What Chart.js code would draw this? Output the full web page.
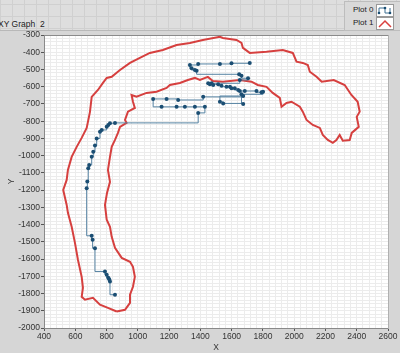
<!DOCTYPE html>
<html>
<head>
<meta charset="utf-8">
<script src="https://cdn.jsdelivr.net/npm/chart.js@4.4.1/dist/chart.umd.min.js"></script>
<style>
    body { margin: 0; width: 400px; height: 353px; overflow: hidden; position: relative;
        font-family: 'Liberation Sans', Arial, sans-serif;
        background-color: #dedede;
        background-image:
            repeating-linear-gradient(0deg, #d0d0d0 0 1px, transparent 1px 12px),
            repeating-linear-gradient(90deg, #d0d0d0 0 1px, transparent 1px 12px); }
    #frame { position: absolute; left: 0; top: 30px; width: 400px; height: 323px; background: #d6d6d6;
        border-top: 1px solid #b8b8b8; }
    #chart { position: absolute; left: 0; top: 0; }
    #title { position: absolute; left: -2px; top: 19px; font-size: 8.5px; color: #222; }
    #legend { position: absolute; left: 344px; top: 1px; width: 56px; height: 28px; background: #d9d9d9;
        border: 1px solid #bdbdbd; border-right: none; font-size: 8px; color: #222; }
    .row { position: absolute; left: 8px; }
    .icon { position: absolute; left: 31px; width: 16px; height: 11px; background: #fff; border: 1px solid #999; }
</style>
</head>
<body>
<div id="frame"></div>
<div id="title">XY Graph&nbsp; 2</div>
<div id="legend">
    <div class="row" style="top:3px">Plot 0</div>
    <div class="icon" style="top:2px">
        <svg width="16" height="11"><polyline points="2,8 2,3 8,3 8,8 13,8 13,3" fill="none" stroke="#3f7093" stroke-width="1"/>
        <circle cx="2" cy="8" r="1.3" fill="#1b4e73"/><circle cx="8" cy="3" r="1.3" fill="#1b4e73"/><circle cx="13" cy="8" r="1.3" fill="#1b4e73"/></svg>
    </div>
    <div class="row" style="top:16px">Plot 1</div>
    <div class="icon" style="top:15px">
        <svg width="16" height="11"><polyline points="2,9 8,3 14,9" fill="none" stroke="#d9403f" stroke-width="1.5"/></svg>
    </div>
</div>
<canvas id="chart" width="400" height="353"></canvas>
<script>
// axis settings
const xMin = 400, xMax = 2600, xStep = 200;
const yMin = -2000, yMax = -300, yStep = 100;

// Plot 0: tracked points (stepped line with markers)
const plot0X = [854, 822, 817, 811, 801, 790, 726, 711, 705,
    673, 677, 683, 689, 705, 715, 726, 737, 758, 769, 801, 811, 822, 854,
    1386, 1429, 1365, 1301, 1248, 1152, 1098, 1184, 1258, 1418, 1674,
    1525, 1546, 1674, 1663, 1801, 1791, 1759, 1684, 1652, 1642, 1620, 1599, 1589, 1567,
    1535, 1514, 1482, 1472, 1461, 1450, 1652, 1705, 1663, 1648,
    1376, 1365, 1344, 1333, 1386, 1525, 1599, 1716];
const plot0Y = [-1807, -1730, -1717, -1709, -1691, -1672, -1537, -1488, -1465,
    -1189, -1150, -1073, -1054, -1007, -978, -941, -900, -861, -851, -832, -822, -812, -810,
    -752, -717, -717, -717, -717, -717, -671, -671, -677, -659, -654,
    -688, -697, -700, -644, -629, -632, -625, -625, -625, -619, -609, -609, -600, -600,
    -594, -586, -590, -580, -586, -580, -561, -551, -536, -528,
    -507, -503, -493, -474, -468, -468, -464, -462];

// Plot 1: outline of the region (closed)
const plot1X = [865, 809, 758, 713, 662, 641, 649, 641, 617, 598, 577, 553, 545, 523, 545, 553,
    577, 609, 641, 673, 694, 705, 745, 777, 801, 833, 886, 950, 1013, 1077, 1160, 1248,
    1333, 1416, 1525, 1544, 1631, 1663, 1672, 1716, 1823, 1927, 1991, 2015, 2055, 2087,
    2100, 2143, 2176, 2253, 2323, 2366, 2406, 2419, 2400, 2413, 2368, 2355, 2311, 2291,
    2270, 2247, 2215, 2183, 2164, 2119, 2079, 2055, 2036, 1983, 1951, 1919, 1908, 1863,
    1823, 1767, 1727, 1652, 1544, 1480, 1448, 1397, 1365, 1320, 1269, 1205, 1184, 1120,
    1056, 992, 960, 969, 981, 937, 918, 928, 886, 873, 854, 833, 822, 809, 822, 803, 790,
    801, 822, 833, 854, 897, 950, 969, 981, 969, 950, 950, 918, 865];
const plot1Y = [-1904, -1883, -1865, -1825, -1836, -1819, -1767, -1703, -1604, -1506, -1413,
    -1332, -1286, -1199, -1141, -1083, -1007, -949, -897, -839, -746, -659, -619, -578, -549,
    -542, -503, -462, -433, -404, -387, -358, -346, -329, -310, -317, -329, -346, -375, -404,
    -397, -387, -404, -455, -462, -474, -513, -542, -571, -561, -590, -648, -687, -745, -775,
    -833, -868, -909, -913, -880, -909, -926, -909, -880, -839, -822, -793, -745, -716, -687,
    -694, -716, -665, -636, -601, -590, -571, -561, -571, -567, -543, -561, -549, -561, -578,
    -590, -607, -629, -636, -658, -648, -687, -723, -745, -793, -810, -833, -868, -909, -949,
    -1007, -1083, -1152, -1216, -1286, -1372, -1413, -1471, -1535, -1593, -1616, -1645, -1703,
    -1761, -1807, -1854, -1894, -1904];

const toPoints = (xs, ys) => xs.map((x, i) => ({ x: x, y: ys[i] }));

const plotBackground = {
    id: 'plotBackground',
    beforeDraw(chart) {
        const { ctx, chartArea } = chart;
        ctx.save();
        ctx.fillStyle = '#ffffff';
        ctx.fillRect(chartArea.left, chartArea.top, chartArea.right - chartArea.left, chartArea.bottom - chartArea.top);
        ctx.restore();
    }
};

const tickFont = { family: "'Liberation Sans', Arial, sans-serif", size: 8.5 };

new Chart(document.getElementById('chart'), {
    type: 'scatter',
    data: {
        datasets: [
            {
                label: 'Plot 0',
                data: toPoints(plot0X, plot0Y),
                showLine: true,
                stepped: true,
                borderColor: '#5582a2',
                borderWidth: 1,
                pointRadius: 2,
                pointBackgroundColor: '#1b4e73',
                pointBorderWidth: 0
            },
            {
                label: 'Plot 1',
                data: toPoints(plot1X, plot1Y),
                showLine: true,
                borderColor: '#d6403f',
                borderWidth: 2,
                pointRadius: 0
            }
        ]
    },
    options: {
        responsive: false,
        animation: false,
        layout: { padding: { top: 35, right: 12, left: 0, bottom: 0 } },
        plugins: { legend: { display: false }, tooltip: { enabled: false } },
        scales: {
            x: {
                min: xMin, max: xMax,
                ticks: { stepSize: xStep, color: '#333', font: tickFont, padding: 1, maxRotation: 0,
                    callback: v => String(v) },
                grid: { color: '#d2d2d2', tickColor: '#555', tickLength: 3 },
                border: { color: '#8a8a8a' },
                title: { display: true, text: 'X', color: '#333', font: tickFont, padding: { top: 0, bottom: 0 } },
                afterFit: s => { s.height = 25; }
            },
            y: {
                min: yMin, max: yMax,
                ticks: { stepSize: yStep, color: '#333', font: tickFont, padding: 1,
                    callback: v => String(v) },
                grid: { color: '#d2d2d2', tickColor: '#555', tickLength: 3 },
                border: { color: '#8a8a8a' },
                title: { display: true, text: 'Y', color: '#333', font: tickFont, padding: { top: 7, bottom: 0 } },
                afterFit: s => { s.width = 44; }
            },
            xm: {
                type: 'linear', position: 'top', z: -1,
                min: xMin, max: xMax,
                ticks: { display: false, stepSize: 40 },
                grid: { color: '#ececec', drawTicks: false },
                border: { display: true, color: '#8a8a8a' },
                afterFit: s => { s.height = 0; }
            },
            ym: {
                type: 'linear', position: 'right', z: -1,
                min: yMin, max: yMax,
                ticks: { display: false, stepSize: 20 },
                grid: { color: '#ececec', drawTicks: false },
                border: { display: true, color: '#b0b0b0' },
                afterFit: s => { s.width = 0; }
            }
        }
    },
    plugins: [plotBackground]
});
</script>
</body>
</html>
